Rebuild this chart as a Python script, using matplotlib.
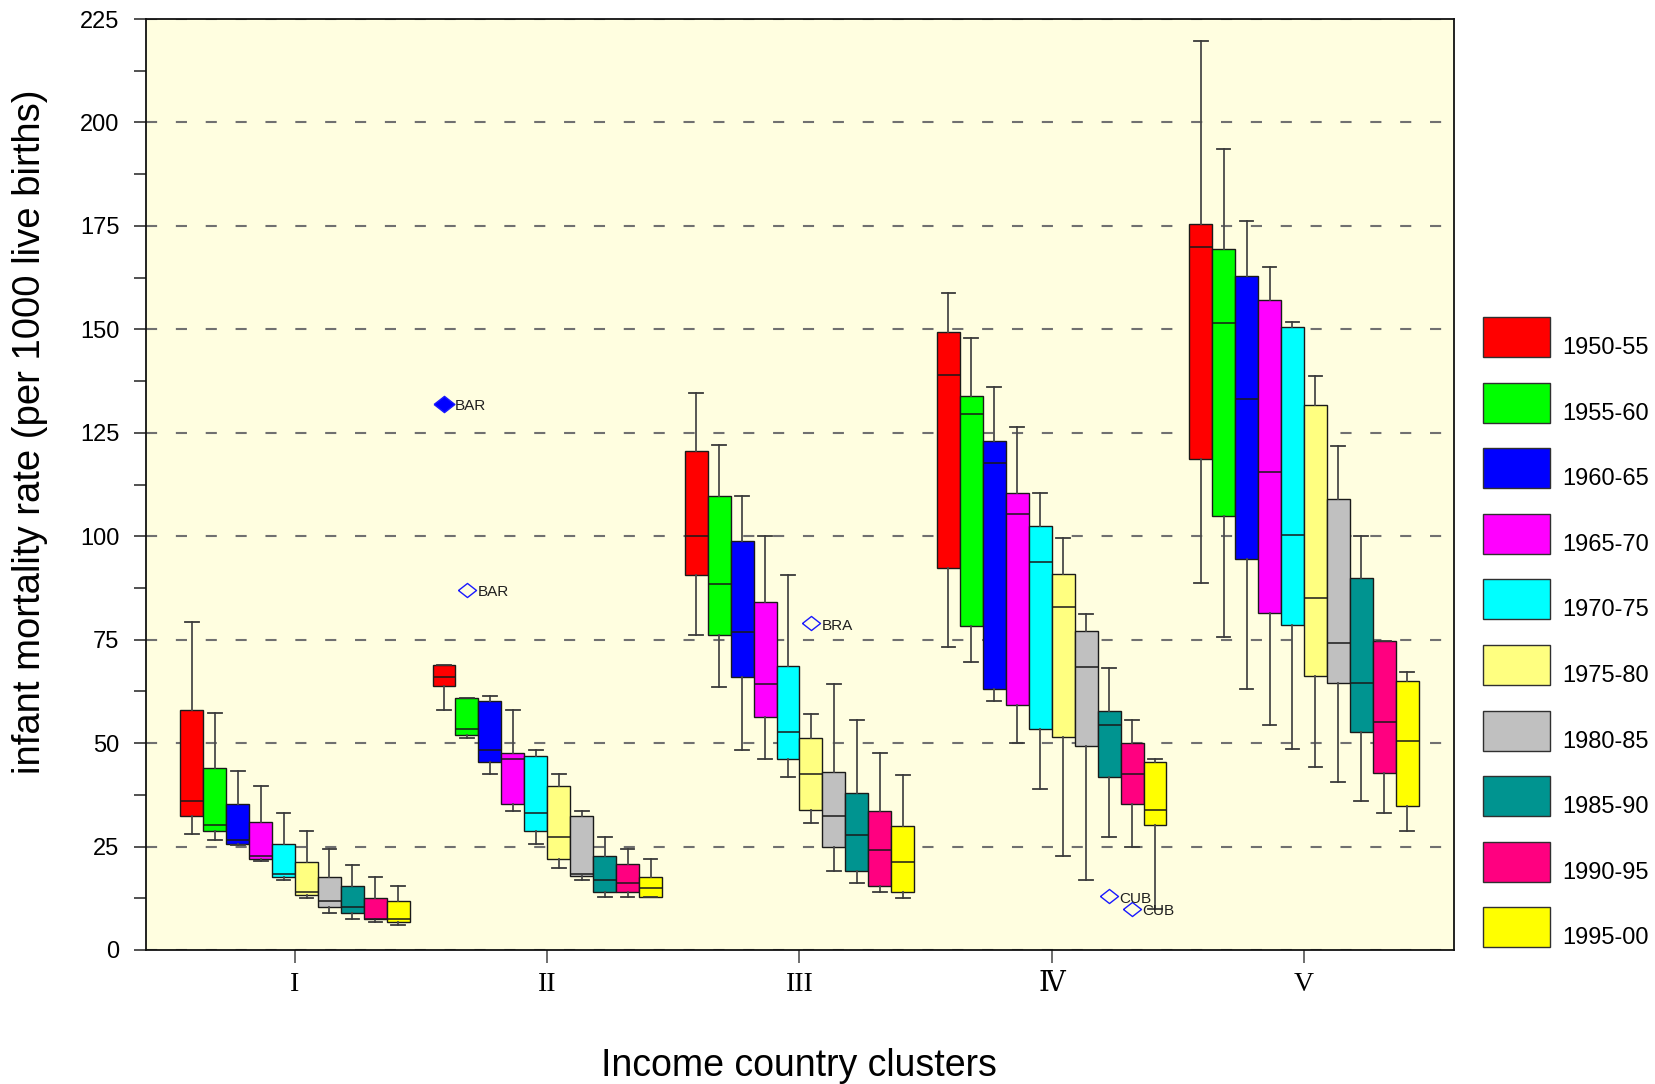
import numpy as np
import matplotlib
matplotlib.use("Agg")
import matplotlib.pyplot as plt
from matplotlib.patches import Rectangle

plt.rcParams['font.family'] = ['Liberation Sans', 'DejaVu Sans']
plt.rcParams['lines.scale_dashes'] = False

clusters = ["I", "II", "III", "\u2163", "V"]
periods = ["1950-55", "1955-60", "1960-65", "1965-70", "1970-75",
           "1975-80", "1980-85", "1985-90", "1990-95", "1995-00"]
period_colors = ["#ff0000", "#00ff00", "#0000ff", "#ff00ff", "#00ffff",
                 "#ffff80", "#c0c0c0", "#009490", "#ff0080", "#ffff00"]

# one row per cluster, one value per period
whisk_lo = [
    [28.0, 26.5, 25.3, 21.4, 17.0, 12.6, 8.9, 7.4, 6.8, 6.0],
    [57.9, 51.3, 42.5, 33.7, 25.7, 19.9, 17.0, 12.7, 12.7, 12.7],
    [76.1, 63.6, 48.3, 46.2, 41.8, 30.8, 19.0, 16.2, 14.1, 12.5],
    [73.3, 69.6, 60.1, 50.0, 38.9, 22.8, 16.9, 27.3, 25.0, 10.0],
    [88.7, 75.6, 63.1, 54.4, 48.5, 44.2, 40.5, 36.0, 33.2, 28.8],
]
q1 = [
    [32.4, 28.8, 25.7, 22.1, 17.7, 13.3, 10.4, 8.9, 7.4, 6.8],
    [63.7, 52.0, 45.4, 35.2, 28.7, 22.1, 17.8, 14.1, 14.1, 12.7],
    [90.7, 76.1, 65.9, 56.4, 46.2, 33.8, 25.0, 19.1, 15.4, 14.0],
    [92.3, 78.4, 63.0, 59.3, 53.5, 51.5, 49.2, 41.9, 35.2, 30.1],
    [118.7, 104.9, 94.5, 81.4, 78.5, 66.1, 64.5, 52.8, 42.7, 34.7],
]
medians = [
    [36.0, 30.2, 26.6, 22.7, 18.4, 14.0, 11.9, 10.5, 7.6, 7.4],
    [66.0, 53.5, 48.3, 46.2, 33.1, 27.2, 18.4, 17.0, 16.3, 14.9],
    [100.1, 88.5, 76.8, 64.4, 52.7, 42.5, 32.3, 27.8, 24.1, 21.3],
    [139.0, 129.5, 117.8, 105.4, 93.8, 82.9, 68.3, 54.3, 42.5, 33.8],
    [169.9, 151.5, 133.2, 115.6, 100.3, 85.1, 74.1, 64.5, 55.0, 50.6],
]
q3 = [
    [58.1, 44.0, 35.3, 31.0, 25.7, 21.3, 17.7, 15.5, 12.6, 11.9],
    [68.8, 60.8, 60.1, 47.7, 46.9, 39.6, 32.4, 22.8, 20.7, 17.7],
    [120.5, 109.7, 98.8, 84.1, 68.7, 51.2, 43.1, 38.0, 33.7, 30.0],
    [149.3, 133.9, 123.0, 110.5, 102.4, 90.8, 77.0, 57.8, 50.0, 45.5],
    [175.5, 169.5, 163.0, 157.2, 150.6, 131.6, 108.9, 89.8, 74.6, 65.0],
]
whisk_hi = [
    [79.3, 57.3, 43.3, 39.7, 33.1, 28.7, 24.3, 20.6, 17.7, 15.5],
    [68.8, 60.8, 61.5, 57.9, 48.3, 42.5, 33.7, 27.2, 24.3, 22.1],
    [134.5, 122.1, 109.6, 100.0, 90.7, 57.1, 64.3, 55.6, 47.5, 42.4],
    [158.8, 147.8, 136.0, 126.5, 110.5, 99.6, 81.3, 68.2, 55.7, 46.1],
    [219.8, 193.6, 176.1, 165.1, 151.8, 138.8, 121.9, 100.1, 74.6, 67.1],
]

# labelled outlying countries
out_cluster = [1, 1, 2, 3, 3]
out_period = [0, 1, 5, 7, 8]
out_value = [132.0, 87.0, 79.0, 13.0, 10.0]
out_label = ["BAR", "BAR", "BRA", "CUB", "CUB"]
out_filled = [True, False, False, False, False]

W, H = 1655, 1084
fig = plt.figure(figsize=(W / 100, H / 100), dpi=100)
ax = fig.add_axes([146 / W, (H - 950) / H, 1308 / W, 931 / H])
ax.set_facecolor("#fffee0")

centers = np.arange(1, len(clusters) + 1)
box_w = 0.091
n_per = len(periods)

for j, col in enumerate(periods):
    stats = []
    for i in range(len(clusters)):
        stats.append(dict(whislo=whisk_lo[i][j], q1=q1[i][j], med=medians[i][j],
                          q3=q3[i][j], whishi=whisk_hi[i][j], fliers=[]))
    pos = centers + (j - (n_per - 1) / 2) * box_w
    ax.bxp(stats, positions=pos, widths=box_w, patch_artist=True,
           showfliers=False, manage_ticks=False, capwidths=box_w * 0.6,
           boxprops=dict(facecolor=period_colors[j], edgecolor="#1a1a1a", linewidth=1.0),
           medianprops=dict(color="#1a1a1a", linewidth=1.1),
           whiskerprops=dict(color="#4a4a4a", linewidth=1.3),
           capprops=dict(color="#3a3a3a", linewidth=1.3),
           zorder=3)

# flattened diamond for the outliers
diamond = [(-1.0, 0.0), (0.0, 0.78), (1.0, 0.0), (0.0, -0.78), (-1.0, 0.0)]
for c, p, v, lab, filled in zip(out_cluster, out_period, out_value, out_label, out_filled):
    x = centers[c] + (p - (n_per - 1) / 2) * box_w
    ax.plot(x, v, marker=diamond, ms=15 if filled else 13,
            mfc="#0000ff" if filled else "none", mec="#1a1aff", mew=1.0,
            linestyle="none", zorder=5)
    ax.text(x + 0.042, v - 0.6, lab, fontsize=11, color="#202020",
            ha="left", va="center", zorder=6)

ax.set_xlim(0.409, 5.595)
ax.set_ylim(0, 225)
ax.set_yticks(np.arange(0, 226, 25))
ax.set_yticks(np.arange(12.5, 225, 25), minor=True)
ax.set_xticks(centers)
ax.set_xticklabels(clusters, family=["Liberation Serif", "DejaVu Serif"], fontsize=20)
ax.tick_params(axis="y", which="both", direction="out", length=9, width=1.2,
               color="#333333", labelsize=17, pad=10)
ax.tick_params(axis="x", direction="out", length=9, width=1.2, color="#555555", pad=7)

ax.yaxis.grid(True, which="major", color="#707070", linewidth=1.5,
              linestyle=(0, (8, 13.5)), zorder=1)
ax.set_axisbelow(True)
for s in ax.spines.values():
    s.set_linewidth(1.3)
    s.set_color("#111111")

fig.text(30 / W, 1 - 432 / H, "infant mortality rate (per 1000 live births)",
         rotation=90, ha="center", va="center", fontsize=27.5)
fig.text(799 / W, 1 - 1066 / H, "Income country clusters",
         ha="center", va="center", fontsize=27)

# legend boxes down the right-hand side
for k, (lab, col) in enumerate(zip(periods, period_colors)):
    top = 317 + k * 65.6
    fig.add_artist(Rectangle((1483 / W, 1 - (top + 40) / H), 67 / W, 40 / H,
                             transform=fig.transFigure, facecolor=col,
                             edgecolor="#303030", linewidth=1.0))
    fig.text(1562 / W, 1 - (top + 31) / H, lab, ha="left", va="center", fontsize=17)

fig.savefig("out.png", dpi=100)
